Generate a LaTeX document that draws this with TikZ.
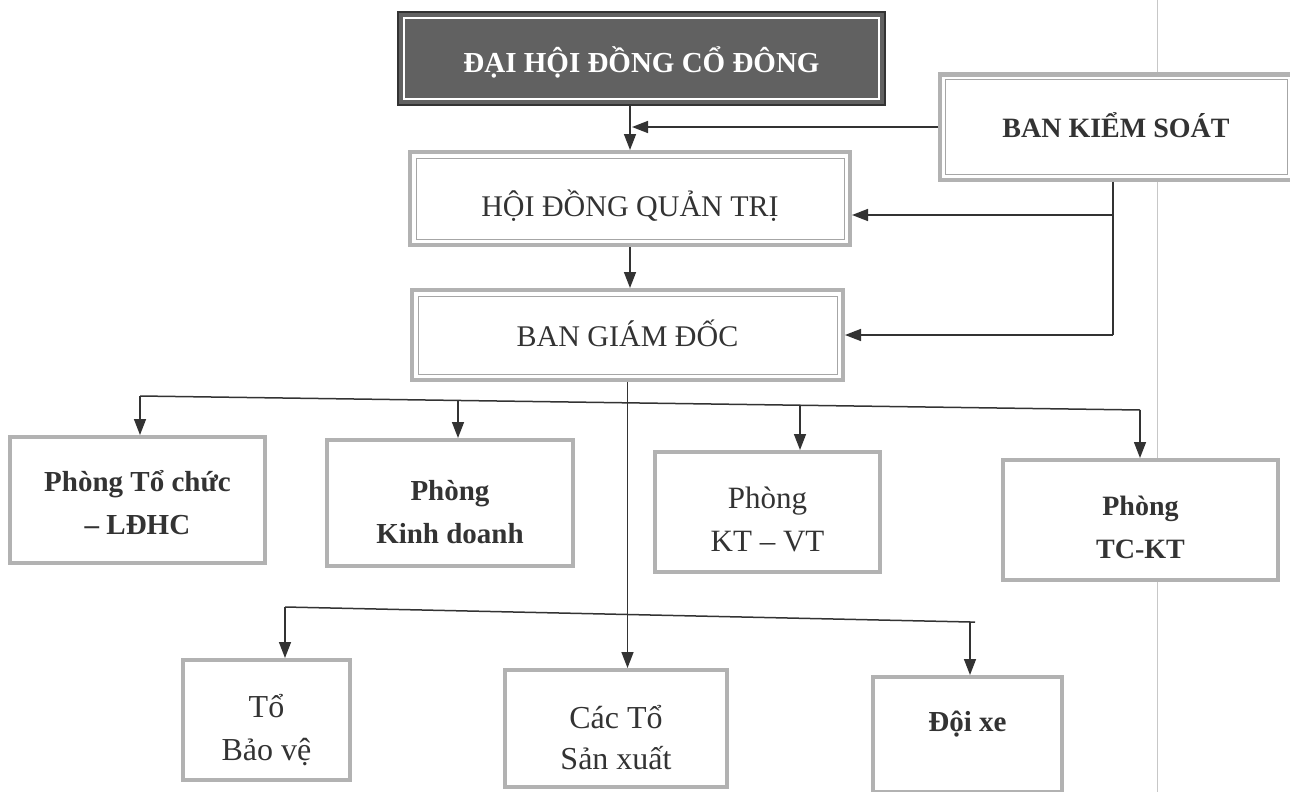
\documentclass[tikz,border=0pt]{standalone}
\usepackage{fontspec}
\setmainfont{Liberation Serif}
\usetikzlibrary{arrows.meta}
\begin{document}
\begin{tikzpicture}[x=1pt,y=-1pt,
  box/.style={draw=black!30, line width=4pt, fill=white, inner sep=0pt},
  txt/.style={text=black!80, align=center, inner sep=0pt, font=\fontsize{30}{43}\selectfont},
  boldtxt/.style={text=black!80, align=center, inner sep=0pt, font=\fontsize{29}{43}\selectfont\bfseries},
  dhbox/.style={draw=black!80, line width=2pt, fill=black!62, inner sep=0pt},
  arr/.style={draw=black!80, line width=1.5pt, -{Triangle[length=16pt,width=12pt]}},
  ln/.style={draw=black!80, line width=1.5pt},
  innerframe/.style={draw=black!35, line width=1pt},
  fold/.style={draw=black!22, line width=0.8pt}]
\useasboundingbox (0,0) rectangle (1290,792);
\draw[fold] (1157,0) -- (1157,792);
% top boxes
\node[dhbox, minimum width=487pt, minimum height=93pt] (dh) at (641.5,58.5) {};
\draw[white, line width=1.5pt] ([shift={(7,7)}]dh.north west) rectangle ([shift={(-7,-7)}]dh.south east);
\node[text=white, inner sep=0pt, font=\fontsize{29}{34}\selectfont\bfseries] (dhT) at ([yshift=-4pt]dh.center) {ĐẠI HỘI ĐỒNG CỔ ĐÔNG};
\node[box, minimum width=352pt, minimum height=105pt] (bks) at (1116,127) {};
\draw[innerframe] ([shift={(7,7)}]bks.north west) rectangle ([shift={(-7,-7)}]bks.south east);
\node[boldtxt, font=\fontsize{28}{34}\selectfont\bfseries] (bksT) at ([yshift=2pt]bks.center) {BAN KIỂM SOÁT};
\node[box, minimum width=440pt, minimum height=93pt] (hdqt) at (630,198.5) {};
\draw[innerframe] ([shift={(8,8)}]hdqt.north west) rectangle ([shift={(-8,-8)}]hdqt.south east);
\node[txt] (hdqtT) at ([yshift=-7pt]hdqt.center) {HỘI ĐỒNG QUẢN TRỊ};
\node[box, minimum width=431pt, minimum height=90pt] (bgd) at (627.5,335) {};
\draw[innerframe] ([shift={(8,8)}]bgd.north west) rectangle ([shift={(-8,-8)}]bgd.south east);
\node[txt] (bgdT) at ([yshift=2pt]bgd.center) {BAN GIÁM ĐỐC};
% row 2
\node[box, minimum width=255pt, minimum height=126pt] (tc) at (137.5,500) {};
\node[boldtxt] (tcT) at ([yshift=-3pt]tc.center) {Phòng Tổ chức\\– LĐHC};
\node[box, minimum width=246pt, minimum height=126pt] (kd) at (450,503) {};
\node[boldtxt] (kdT) at ([yshift=-9pt]kd.center) {Phòng\\Kinh doanh};
\node[box, minimum width=225pt, minimum height=120pt] (ktvt) at (767.5,512) {};
\node[txt, font=\fontsize{31}{43}\selectfont] (ktvtT) at ([yshift=-7pt]ktvt.center) {Phòng\\KT – VT};
\node[box, minimum width=275pt, minimum height=120pt] (tckt) at (1140.5,520) {};
\node[boldtxt, font=\fontsize{28}{43}\selectfont\bfseries] (tcktT) at ([yshift=-7pt]tckt.center) {Phòng\\TC-KT};
% row 3
\node[box, minimum width=167pt, minimum height=120pt] (tbv) at (266.5,720) {};
\node[txt, font=\fontsize{32}{43}\selectfont] (tbvT) at ([yshift=-10pt]tbv.center) {Tổ\\Bảo vệ};
\node[box, minimum width=222pt, minimum height=117pt] (ctsx) at (616,728.5) {};
\node[txt, font=\fontsize{32}{41}\selectfont] (ctsxT) at ([yshift=-9pt]ctsx.center) {Các Tổ\\Sản xuất};
\node[box, minimum width=189pt, minimum height=115pt] (dx) at (967.5,734.5) {};
\node[boldtxt] (dxT) at ([yshift=10pt]dx.center) {Đội xe};
% connectors top
\coordinate (j1) at (632,127);
\draw[arr] (dh.south -| hdqt.north) -- (hdqt.north);
\draw[arr] (bks.west |- j1) -- (j1);
\coordinate (k1) at (1113,215);
\coordinate (k2) at (1113,335);
\draw[ln] (bks.south -| k1) -- (k2);
\draw[arr] (k1) -- (k1 -| hdqt.east);
\draw[arr] (k2) -- (k2 -| bgd.east);
\draw[arr] (hdqt.south) -- (hdqt.south |- bgd.north);
\draw[arr] (bgd.south) -- (bgd.south |- ctsx.north);
% bus 1
\coordinate (b1a) at (140,396);
\coordinate (b1b) at (458,400.5);
\coordinate (b1c) at (800,405.2);
\coordinate (b1d) at (1140,410);
\draw[ln] (b1a) -- (b1d);
\draw[arr] (b1a) -- (b1a |- tc.north);
\draw[arr] (b1b) -- (b1b |- kd.north);
\draw[arr] (b1c) -- (b1c |- ktvt.north);
\draw[arr] (b1d) -- (b1d |- tckt.north);
% bus 2
\coordinate (b2a) at (285,607);
\coordinate (b2c) at (970,622);
\draw[ln] (b2a) -- (975,622.1);
\draw[arr] (b2a) -- (b2a |- tbv.north);
\draw[arr] (b2c) -- (b2c |- dx.north);
\end{tikzpicture}
\end{document}
